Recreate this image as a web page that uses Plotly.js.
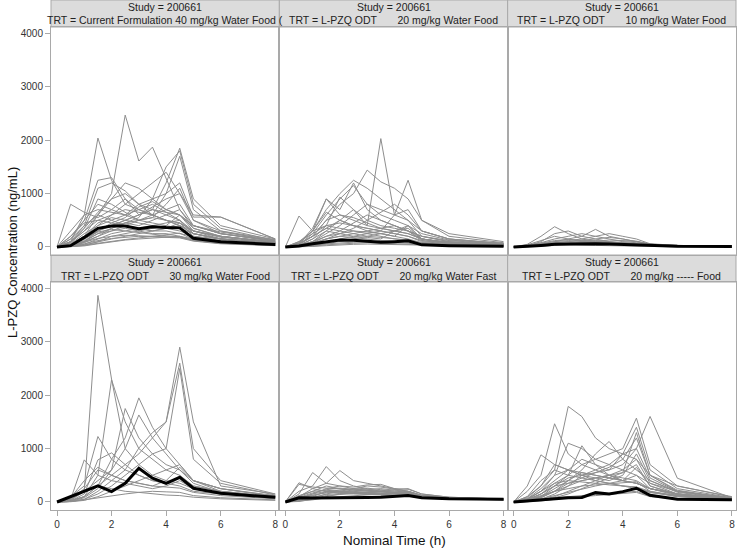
<!DOCTYPE html>
<html><head><meta charset="utf-8">
<script src="https://cdn.plot.ly/plotly-3.0.1.min.js"></script>
<style>html,body{margin:0;padding:0;background:#fff}#chart{width:738px;height:549px}</style>
</head><body><div id="chart"></div><script>
const TIMES = [0,0.5,1,1.5,2,2.5,3,3.5,4,4.5,5,6,8];
const X_TICKS = [0,2,4,6,8];
const Y_TICKS = [0,1000,2000,3000,4000];
const studyLabel = 'Study = 200661';
const NB = '\u00a0\u00a0\u00a0\u00a0\u00a0\u00a0\u00a0';
const trtLabels = [
  'TRT = Current Formulation 40 mg/kg Water Food (',
  'TRT = L-PZQ ODT' + NB + '20 mg/kg Water Food',
  'TRT = L-PZQ ODT' + NB + '10 mg/kg Water Food',
  'TRT = L-PZQ ODT' + NB + '30 mg/kg Water Food',
  'TRT = L-PZQ ODT' + NB + '20 mg/kg Water Fast',
  'TRT = L-PZQ ODT' + NB + '20 mg/kg ----- Food'
];

const p1Subjects = [
 [0,50,200,600,1000,2470,1610,1870,1300,700,400,250,120],
 [0,100,600,2040,1250,800,700,600,500,400,250,150,80],
 [0,800,650,550,700,900,600,750,900,1000,600,560,150],
 [0,30,150,300,400,500,600,700,1200,1850,900,400,150],
 [0,20,100,250,350,450,550,900,1500,1800,800,350,120],
 [0,10,80,200,300,400,500,600,1000,1700,700,300,100],
 [0,150,500,1250,1300,900,700,600,500,400,300,200,90],
 [0,100,400,1100,1200,1050,800,600,500,450,300,180,80],
 [0,50,200,400,600,800,1000,1200,1400,1000,500,300,140],
 [0,80,300,600,900,1200,1100,900,700,600,400,250,110],
 [0,200,500,800,700,600,800,900,1000,1200,560,560,150],
 [0,300,600,700,650,600,500,550,500,450,300,200,90],
 [0,100,300,500,600,700,650,600,700,800,400,250,110],
 [0,50,150,300,400,500,600,700,600,500,300,200,80],
 [0,20,100,200,350,450,400,500,600,700,350,200,90],
 [0,150,400,600,500,400,350,300,300,250,200,150,70],
 [0,10,50,150,250,300,350,400,450,500,250,150,60],
 [0,40,200,450,550,500,450,400,350,300,200,120,50],
 [0,5,30,100,200,250,300,350,400,600,300,150,60],
 [0,60,250,400,500,600,700,800,650,500,250,150,70],
 [0,30,120,250,300,350,300,250,250,200,150,100,40],
 [0,80,350,900,800,650,500,450,400,350,250,150,60],
 [0,20,100,300,450,550,750,850,700,600,350,200,90],
 [0,200,450,500,450,400,350,300,350,400,250,150,70],
 [0,10,40,100,150,200,250,300,350,450,200,100,40],
 [0,100,350,650,900,1000,800,700,650,600,400,280,130],
 [0,50,200,350,400,450,500,550,800,1100,500,250,100],
 [0,5,20,60,100,130,150,170,190,200,120,70,30],
 [0,15,60,120,160,180,200,190,180,170,110,60,25],
 [0,25,90,160,200,220,210,200,190,180,120,70,30],
 [0,8,30,70,110,140,170,200,230,260,140,80,35],
 [0,40,150,280,330,300,260,230,210,190,130,80,35]
];
const p1Mean = [0,25,180,349,391,391,344,378,365,358,162,100,45];

const p2Subjects = [
 [0,30,100,300,500,700,400,2030,600,1250,500,200,80],
 [0,50,200,500,800,1000,1440,1220,1100,900,500,250,100],
 [0,80,300,700,1000,1250,1100,900,700,500,300,150,70],
 [0,40,250,600,900,1150,800,600,500,400,250,130,60],
 [0,60,350,900,700,1200,700,500,400,300,200,120,50],
 [0,580,300,400,450,400,350,300,250,200,120,80,40],
 [0,100,300,900,600,500,400,350,300,250,150,90,40],
 [0,20,150,400,934,700,500,400,350,300,200,100,50],
 [0,30,100,250,400,600,800,700,600,700,300,150,60],
 [0,50,200,350,500,400,350,300,600,500,200,100,40],
 [0,10,50,150,250,350,500,650,800,600,300,150,60],
 [0,100,250,400,350,300,250,200,150,120,80,50,25],
 [0,20,80,200,300,450,600,500,400,300,150,80,30],
 [0,40,150,300,250,200,180,150,300,400,150,80,30],
 [0,10,30,80,150,200,250,300,250,200,100,60,25],
 [0,50,200,500,600,550,450,350,300,250,150,80,30],
 [0,5,20,60,100,150,200,250,300,350,150,70,30],
 [0,30,100,200,250,300,280,250,200,150,80,50,20],
 [0,70,200,350,300,250,200,180,150,130,70,40,20],
 [0,15,60,150,200,250,300,350,400,300,120,60,25],
 [0,20,80,150,200,180,150,120,100,90,50,30,15],
 [0,60,300,650,500,400,300,250,200,400,150,80,30],
 [0,5,15,40,60,70,80,70,60,50,30,20,10],
 [0,10,30,60,80,90,100,90,80,70,40,25,12],
 [0,3,10,25,40,50,55,50,45,40,25,15,8]
];
const p2Mean = [0,20,60,100,130,125,110,90,100,115,40,25,15];

const p3Subjects = [
 [0,50,200,380,250,150,100,80,60,50,30,20,10],
 [0,20,100,250,300,200,150,100,80,60,40,20,10],
 [0,10,50,100,150,200,330,200,150,100,50,30,10],
 [0,30,80,150,200,250,200,150,100,80,40,20,10],
 [0,5,30,80,100,120,150,180,150,100,50,25,10],
 [0,40,120,200,150,100,80,60,50,40,25,15,5],
 [0,10,40,60,80,100,120,100,80,60,30,15,5],
 [0,20,60,100,120,150,200,250,200,150,60,30,10],
 [0,5,20,40,60,80,70,60,50,40,20,10,5],
 [0,15,50,80,100,90,80,70,60,50,30,15,5],
 [0,3,10,30,50,60,70,80,90,100,50,20,8],
 [0,10,30,50,40,35,30,25,20,15,10,5,2],
 [0,25,70,120,140,130,110,90,70,60,35,20,8],
 [0,8,25,45,70,90,110,130,120,110,55,25,10]
];
const p3Mean = [0,10,30,50,55,55,60,55,45,40,25,15,8];

const p4Subjects = [
 [0,50,200,3870,2300,1000,700,500,400,350,250,150,80],
 [0,30,100,500,2290,1500,1000,800,600,500,300,200,100],
 [0,20,100,300,500,700,900,1200,1500,2900,1500,300,150],
 [0,20,100,300,800,1200,1950,1400,1000,700,400,200,100],
 [0,10,80,250,600,1000,1630,1200,900,600,350,180,90],
 [0,10,50,200,400,600,1010,1300,1500,2600,1000,400,150],
 [0,100,300,1226,800,600,500,400,350,300,200,150,80],
 [0,50,789,500,400,350,300,250,300,400,250,150,70],
 [0,30,200,400,600,1750,1200,900,700,600,400,250,120],
 [0,20,150,789,920,700,500,400,350,450,300,200,90],
 [0,10,50,150,300,500,700,900,1000,2500,800,350,130],
 [0,40,250,600,500,400,350,300,400,650,400,250,110],
 [0,5,30,100,200,300,400,500,600,700,400,250,100],
 [0,60,200,300,250,200,180,150,130,120,90,60,30],
 [0,10,40,80,120,150,180,200,190,180,120,80,40],
 [0,80,400,650,500,400,350,300,280,260,180,120,60]
];
const p4Mean = [0,100,194,300,194,350,633,445,350,463,257,163,88];

const p5Subjects = [
 [0,200,300,663,400,300,250,200,180,150,100,70,50],
 [0,150,551,350,300,250,220,200,180,150,100,70,50],
 [0,100,250,350,588,400,350,300,250,200,120,80,50],
 [0,360,250,200,180,160,150,140,130,120,90,70,50],
 [0,330,280,260,240,220,200,180,160,150,100,70,45],
 [0,50,150,250,300,280,320,330,250,238,150,90,55],
 [0,20,80,150,200,250,300,280,240,200,120,80,50],
 [0,100,200,300,250,200,180,160,150,140,100,70,45],
 [0,30,100,200,220,240,260,230,200,180,110,70,45],
 [0,80,150,200,180,170,160,150,180,200,130,80,50],
 [0,60,120,180,200,190,180,170,160,150,100,65,40],
 [0,10,50,100,150,170,190,210,230,250,150,90,55],
 [0,40,90,140,160,150,140,130,120,110,80,55,40],
 [0,120,200,220,200,180,160,140,130,120,90,60,40],
 [0,20,60,120,140,160,180,200,190,180,110,70,45],
 [0,70,130,170,190,210,230,250,220,200,120,75,50],
 [0,15,40,80,100,120,140,160,170,180,110,70,45],
 [0,90,170,230,260,240,220,200,180,160,100,65,45]
];
const p5Mean = [0,80,75,75,75,80,85,90,105,120,80,60,50];

const p6Subjects = [
 [0,100,300,600,1790,1600,1200,1000,900,800,500,300,100],
 [0,200,500,1465,900,700,600,500,400,350,250,150,70],
 [0,300,883,700,600,500,400,350,300,250,180,120,60],
 [0,50,200,400,600,800,700,600,900,1000,1602,445,80],
 [0,30,100,300,500,700,800,900,1000,1571,700,300,90],
 [0,20,80,200,400,600,900,1133,800,600,400,200,70],
 [0,50,200,500,1100,1000,800,700,600,500,350,200,70],
 [0,40,150,350,500,1053,700,500,400,350,250,150,60],
 [0,10,50,150,300,500,600,700,900,1400,600,250,80],
 [0,20,80,200,350,450,550,650,800,1200,500,200,70],
 [0,60,250,500,600,500,450,400,500,900,400,180,60],
 [0,30,150,300,450,500,550,600,700,1000,450,200,70],
 [0,80,300,700,600,550,500,450,400,350,250,150,60],
 [0,10,40,100,200,300,400,500,600,800,350,150,50],
 [0,100,400,600,500,450,400,350,300,280,200,120,50],
 [0,20,100,250,400,550,500,450,400,650,300,150,50],
 [0,50,150,300,350,400,450,500,450,400,250,150,50],
 [0,5,30,80,150,250,350,450,550,700,300,130,45],
 [0,40,120,200,250,300,320,340,360,380,200,100,40],
 [0,60,200,350,400,380,350,320,300,280,180,100,40],
 [0,15,60,120,180,250,300,350,400,500,250,120,45],
 [0,30,100,200,300,400,450,500,550,1300,500,220,70],
 [0,5,20,50,80,100,120,140,160,180,100,60,30],
 [0,10,40,80,100,120,130,150,170,200,110,60,30]
];
const p6Mean = [0,20,40,60,81,85,175,150,194,257,125,50,44];

const panelSubjects = [p1Subjects,p2Subjects,p3Subjects,p4Subjects,p5Subjects,p6Subjects];
const panelMeans = [p1Mean,p2Mean,p3Mean,p4Mean,p5Mean,p6Mean];

const FONT = 'Liberation Sans, Arial, sans-serif';
const GREY = '#8e8e8e';
const BORDER = '#a9a9a9';
const xDomains = [[0,1/3],[1/3,2/3],[2/3,1]];
const plotH = 510;
const rowDomains = [[(510-255)/plotH,(510-27)/plotH],[0,(510-282)/plotH]];
const headerDomains = [[(510-27)/plotH,1],[(510-282)/plotH,(510-255)/plotH]];

const traces = [];
const layout = {
  width:738, height:549,
  margin:{l:51,r:2,t:0,b:39},
  paper_bgcolor:'#fff', plot_bgcolor:'#fff',
  showlegend:false,
  font:{family:FONT,size:10,color:'#333'},
  shapes:[], annotations:[]
};

for (let i=0;i<6;i++){
  const n = i+1;
  const row = i<3?0:1, col = i%3;
  const xa = n===1?'x':'x'+n, ya = n===1?'y':'y'+n;
  panelSubjects[i].forEach(s=>{
    traces.push({x:TIMES,y:s,xaxis:xa,yaxis:ya,mode:'lines',type:'scatter',
      line:{color:GREY,width:1},hoverinfo:'skip'});
  });
  traces.push({x:TIMES,y:panelMeans[i],xaxis:xa,yaxis:ya,mode:'lines',type:'scatter',
    line:{color:'#000',width:3},hoverinfo:'skip'});
  layout['xaxis'+(n===1?'':n)] = {
    domain:xDomains[col], anchor:ya, range:[-0.22,8.15],
    tickvals:X_TICKS, ticktext:X_TICKS.map(String),
    showticklabels:row===1, ticks:row===1?'outside':'', ticklen:5, tickcolor:BORDER,
    showline:true, mirror:true, linecolor:BORDER, linewidth:1,
    showgrid:false, zeroline:false, fixedrange:true,
    tickfont:{family:FONT,size:10,color:'#333'}
  };
  layout['yaxis'+(n===1?'':n)] = {
    domain:rowDomains[row], anchor:xa, range:[-150,4120],
    tickvals:Y_TICKS, ticktext:Y_TICKS.map(String),
    showticklabels:col===0, ticks:col===0?'outside':'', ticklen:5, tickcolor:BORDER,
    showline:true, mirror:true, linecolor:BORDER, linewidth:1,
    showgrid:false, zeroline:false, fixedrange:true,
    tickfont:{family:FONT,size:10,color:'#333'}
  };
  const hd = headerDomains[row];
  layout.shapes.push({type:'rect',xref:'paper',yref:'paper',
    x0:xDomains[col][0],x1:xDomains[col][1],y0:hd[0],y1:hd[1],
    fillcolor:'#dcdcdc',line:{color:BORDER,width:1},layer:'below'});
  const xc = (xDomains[col][0]+xDomains[col][1])/2;
  const hTop = row===0?0:255;
  layout.annotations.push({xref:'paper',yref:'paper',x:xc,y:(510-(hTop+7))/plotH,
    text:studyLabel,showarrow:false,xanchor:'center',yanchor:'middle',
    font:{family:FONT,size:10.5,color:'#222'}});
  layout.annotations.push({xref:'paper',yref:'paper',x:xc,y:(510-(hTop+20.5))/plotH,
    text:trtLabels[i],showarrow:false,xanchor:'center',yanchor:'middle',
    font:{family:FONT,size:10.5,color:'#222'}});
}
layout.annotations.push({xref:'paper',yref:'paper',x:(12-51)/685,y:(510-253)/plotH,
  text:'L-PZQ Concentration (ng/mL)',textangle:-90,showarrow:false,
  xanchor:'center',yanchor:'middle',font:{family:FONT,size:13,color:'#111'}});
layout.annotations.push({xref:'paper',yref:'paper',x:(394-51)/685,y:(510-540)/plotH,
  text:'Nominal Time (h)',showarrow:false,
  xanchor:'center',yanchor:'middle',font:{family:FONT,size:13.5,color:'#111'}});

Plotly.newPlot('chart',traces,layout,{staticPlot:true,displayModeBar:false});
</script></body></html>
